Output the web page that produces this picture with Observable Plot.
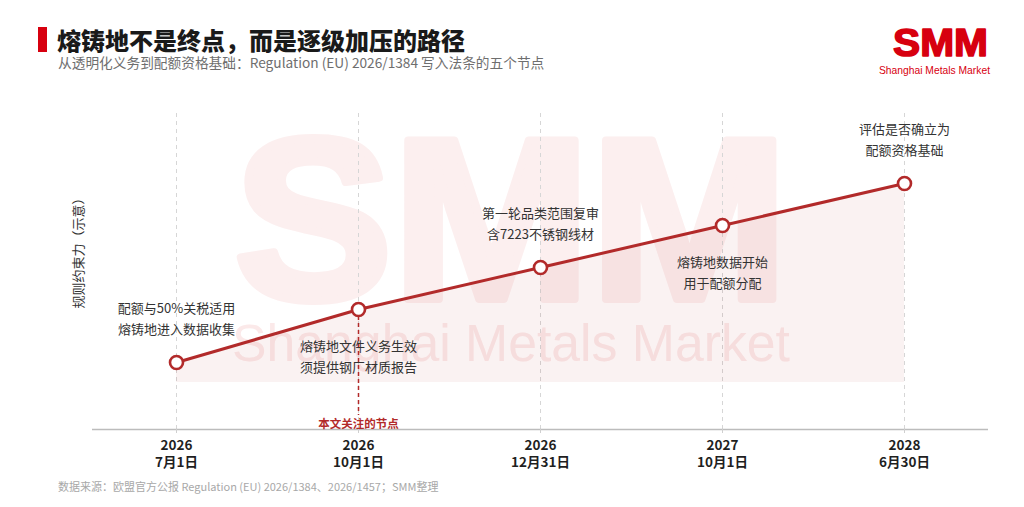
<!DOCTYPE html>
<html>
<head>
<meta charset="utf-8">
<script src="https://cdn.jsdelivr.net/npm/d3@7"></script>
<script src="https://cdn.jsdelivr.net/npm/@observablehq/plot@0.6"></script>
<style>
  html, body { margin: 0; padding: 0; background: #fff; }
  body { font-family: "Noto Sans CJK SC", "Noto Sans", sans-serif; }
  #page { position: relative; width: 1024px; height: 507px; overflow: hidden; background: #fff; }
  #bg { position: absolute; left: 0; top: 0; z-index: 0; }
  #bar { position: absolute; left: 38px; top: 27px; width: 9px; height: 25px; background: #d7000f; }
  #title { position: absolute; left: 57px; top: 24px; font-size: 24px; line-height: 32px; font-weight: 900; color: #1a1a1a; white-space: nowrap; z-index: 2; }
  #subtitle { position: absolute; left: 58px; top: 52px; font-size: 13.7px; line-height: 20px; color: #6e6e6e; white-space: nowrap; z-index: 2; }
  #chart { position: absolute; left: 0; top: 82px; z-index: 1; }
  #footer { position: absolute; left: 58px; top: 478px; font-size: 11px; line-height: 16px; color: #a8a8a8; white-space: nowrap; z-index: 2; }
</style>
</head>
<body>
<div id="page">
  <svg id="bg" width="1024" height="507" xmlns="http://www.w3.org/2000/svg">
    <text x="234" y="299" font-family="Liberation Sans, Arial, sans-serif" font-weight="700" font-size="231" textLength="554" lengthAdjust="spacingAndGlyphs" fill="#fcefef" stroke="#fcefef" stroke-width="8" stroke-linejoin="round">SMM</text>
    <text x="232" y="361" font-family="Liberation Sans, Arial, sans-serif" font-size="51" textLength="558" lengthAdjust="spacingAndGlyphs" fill="#fbe9e9">Shanghai Metals Market</text>
    <text x="893" y="56" font-family="Liberation Sans, Arial, sans-serif" font-weight="700" font-size="39" textLength="95" lengthAdjust="spacingAndGlyphs" fill="#d7000f" stroke="#d7000f" stroke-width="1.6" stroke-linejoin="round">SMM</text>
    <text x="879" y="74" font-family="Liberation Sans, Arial, sans-serif" font-size="11.5" textLength="111" lengthAdjust="spacingAndGlyphs" fill="#d7000f">Shanghai Metals Market</text>
  </svg>
  <div id="bar"></div>
  <div id="title">熔铸地不是终点，而是逐级加压的路径</div>
  <div id="subtitle">从透明化义务到配额资格基础：Regulation (EU) 2026/1384 写入法条的五个节点</div>
  <div id="chart"></div>
  <div id="footer">数据来源：欧盟官方公报 Regulation (EU) 2026/1384、2026/1457；SMM整理</div>
</div>
<script>
// ---- data ----
const dates = ["2026-07-01", "2026-10-01", "2026-12-31", "2027-10-01", "2028-06-30"];
const yearLabels = ["2026", "2026", "2026", "2027", "2028"];
const dayLabels = ["7月1日", "10月1日", "12月31日", "10月1日", "6月30日"];
const strength = [1.0, 3.65, 5.75, 7.85, 9.95];
const notes = [
  "配额与50%关税适用\n熔铸地进入数据收集",
  "熔铸地文件义务生效\n须提供钢厂材质报告",
  "第一轮品类范围复审\n含7223不锈钢线材",
  "熔铸地数据开始\n用于配额分配",
  "评估是否确立为\n配额资格基础"
];
const focusDate = "2026-10-01";
const focusLabel = "本文关注的节点";
const yAxisLabel = "规则约束力（示意）";

// ---- build ----
const data = dates.map((d, i) => ({date: d, v: strength[i], note: notes[i], i}));
const above = data.filter(d => d.i % 2 === 0);
const below = data.filter(d => d.i % 2 === 1);
const focus = data.filter(d => d.date === focusDate);
const yMin = -2.35, yMax = 13.45;
const red = "#b22a2a";

const plot = Plot.plot({
  width: 1024,
  height: 400,
  marginLeft: 92,
  marginRight: 36,
  marginTop: 31,
  marginBottom: 53,
  style: {background: "transparent", fontFamily: "'Noto Sans CJK SC', 'Noto Sans', sans-serif"},
  x: {type: "point", domain: dates, padding: 0.45},
  y: {domain: [yMin, yMax], axis: null},
  marks: [
    Plot.ruleX(dates, {x: d => d, y1: yMin, y2: yMax, stroke: "#d6d6d6", strokeWidth: 1, strokeDasharray: "4,4"}),
    Plot.areaY(data, {x: "date", y: "v", fill: red, fillOpacity: 0.06}),
    Plot.ruleY([yMin], {stroke: "#bcbcbc", strokeWidth: 1.5}),
    Plot.axisX({
      tickFormat: d => yearLabels[dates.indexOf(d)] + "\n" + dayLabels[dates.indexOf(d)],
      tickSize: 4,
      tickPadding: 4,
      stroke: "#cfcfcf",
      fontSize: 13.5,
      fontWeight: "bold",
      fill: "#1f1f1f",
      lineHeight: 1.28,
      label: null
    }),
    Plot.ruleX(focus, {x: "date", y1: "v", y2: -1.65, stroke: red, strokeWidth: 1.5, strokeDasharray: "4,3"}),
    Plot.text(focus, {x: "date", y: -2.1, text: () => focusLabel, fill: red, fontSize: 11.5, fontWeight: "bold"}),
    Plot.line(data, {x: "date", y: "v", stroke: red, strokeWidth: 3}),
    Plot.dot(data, {x: "date", y: "v", r: 6.5, fill: "white", stroke: red, strokeWidth: 2.6}),
    Plot.text(above, {x: "date", y: "v", text: "note", dy: -46, lineHeight: 1.6, fontSize: 13, fill: "#333"}),
    Plot.text(below, {x: "date", y: "v", text: "note", dy: 45, lineHeight: 1.6, fontSize: 13, fill: "#333"}),
    Plot.text([yAxisLabel], {frameAnchor: "left", dx: -14, rotate: -90, text: d => d, fontSize: 13, fill: "#333", y: 3.7})
  ]
});
document.getElementById("chart").appendChild(plot);
</script>
</body>
</html>
